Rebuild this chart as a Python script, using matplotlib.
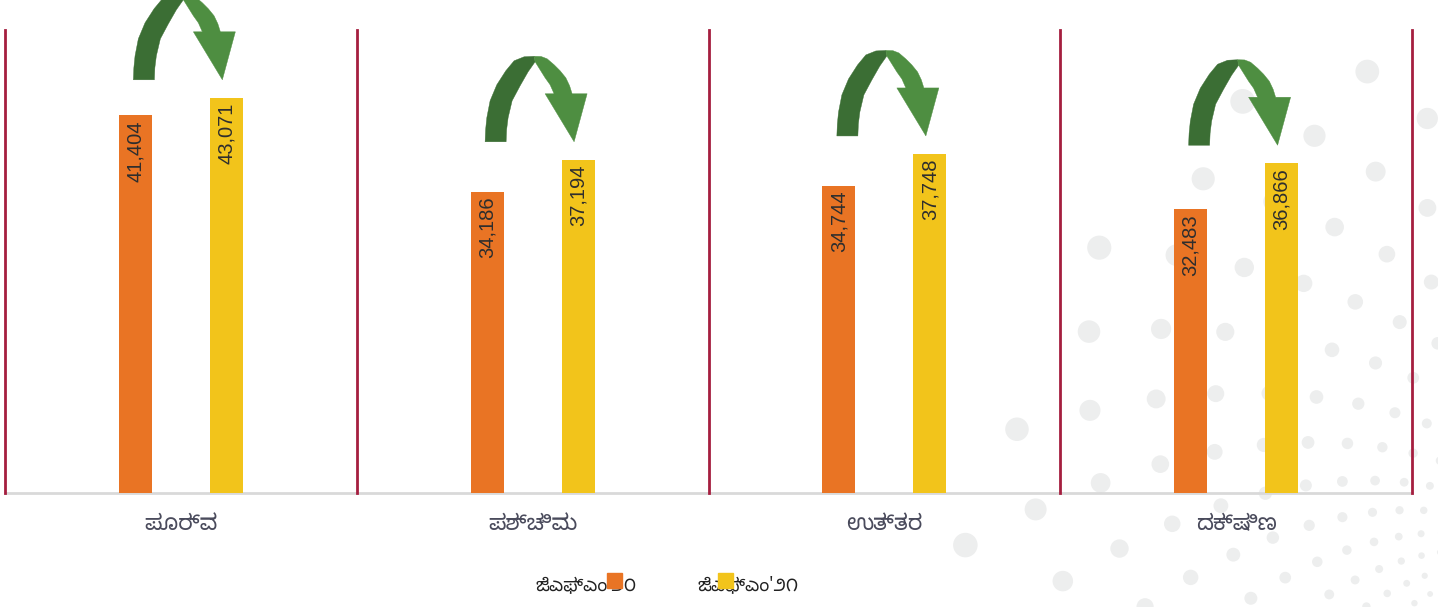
import numpy as np
import matplotlib
matplotlib.use("Agg")
import matplotlib.pyplot as plt
from matplotlib.patches import Polygon, Rectangle
import matplotlib.transforms as mtransforms

# data
regions = ["ಪೂರ್ವ", "ಪಶ್ಚಿಮ", "ಉತ್ತರ", "ದಕ್ಷಿಣ"]
jfm20 = [41404, 34186, 34744, 32483]
jfm21 = [43071, 37194, 37748, 36866]
series_names = ["ಜೆಎಫ್ಎಂ'೨೦", "ಜೆಎಫ್ಎಂ'೨೧"]

KN = ["Noto Sans Kannada", "Lohit Kannada", "Tunga", "Noto Sans", "DejaVu Sans"]
plt.rcParams["font.family"] = KN

orange = "#E97424"
yellow = "#F2C41B"
sep_col = "#A51E3F"

W, H = 1438, 607
fig = plt.figure(figsize=(W / 100, H / 100), dpi=100)

# background dot spiral (decoration only)
bg = fig.add_axes([0, 0, 1, 1], zorder=0)
bg.set_xlim(0, W)
bg.set_ylim(H, 0)
bg.axis("off")
cx, cy = 1550, 610
golden = np.radians(137.508)
i = np.arange(1200)
r = 40 * 1.0034 ** i
keep = r < 600
r = r[keep]
th = i[keep] * golden
px = cx + r * np.cos(th)
py = cy + r * np.sin(th)
vis = (px > -20) & (px < W + 20) & (py > -20) & (py < H + 20)
d = 0.04 * r[vis] + 1.0
bg.scatter(px[vis], py[vis], s=(d * 0.72) ** 2, color="#EDEEEE", lw=0)

ax = fig.add_axes([5 / W, (H - 493) / H, (1412 - 5) / W, (493 - 30) / H], zorder=1)
ax.patch.set_alpha(0)

x = np.arange(len(regions))
bw = 0.094
off = 0.1294
ax.bar(x - off, jfm20, bw, color=orange, zorder=3)
ax.bar(x + off, jfm21, bw, color=yellow, zorder=3)
ax.set_xlim(-0.5, len(regions) - 0.5)
ax.set_ylim(5600, 49500)

for s in ax.spines.values():
    s.set_visible(False)
ax.set_yticks([])
ax.set_xticks(x)
ax.set_xticklabels(regions, fontsize=16, color="#4A4B5C")
ax.tick_params(axis="x", length=0, pad=15)
ax.axhline(5600, color="#D9D9D9", lw=2, zorder=2, clip_on=False)
for xv in np.arange(-0.5, len(regions), 1.0):
    ax.axvline(xv, color=sep_col, lw=2, zorder=2, clip_on=False)

# value labels inside bars
for xi, v20, v21 in zip(x, jfm20, jfm21):
    for xp, v in ((xi - off, v20), (xi + off, v21)):
        ax.annotate(f"{v:,}", (xp, v), xytext=(0, -5), textcoords="offset pixels",
                    rotation=90, ha="center", va="top", fontsize=14.5,
                    family="Liberation Sans", color="#2E2E2E", zorder=4)

# curved arrows from the 2020 bar to the 2021 bar (shape in pixels)
dark_part = [(0, 0), (0.5, 12), (1.7, 24), (5, 41), (11.7, 57), (20.7, 71),
             (29, 81), (39, 85), (49, 85.5), (50, 80), (43, 70), (35, 56),
             (27, 41), (23, 24), (21.5, 12), (21, 0)]
light_part = [(49, 85.5), (56, 85.3), (62, 83), (69, 77), (75, 71), (80.7, 64),
              (84.5, 56), (87, 48), (102, 48), (89, 0), (60, 48), (69, 48),
              (65, 57), (60, 64), (55, 72), (50, 80)]
for xi, v21 in zip(x, jfm21):
    tr = mtransforms.Affine2D().translate(-2, 18) + \
        mtransforms.ScaledTranslation(xi - off, v21, ax.transData)
    ax.add_patch(Polygon(dark_part, closed=True, fc="#3B6E34", ec="#3B6E34",
                         lw=0.3, transform=tr, clip_on=False, zorder=5))
    ax.add_patch(Polygon(light_part, closed=True, fc="#4E8E41", ec="#4E8E41",
                         lw=0.3, transform=tr, clip_on=False, zorder=5))

# legend (text with colour squares as placed in the source)
fig.text(535 / W, 1 - 585 / H, series_names[0], fontsize=13, color="#222222",
         va="center", ha="left", zorder=3)
fig.text(697 / W, 1 - 585 / H, series_names[1], fontsize=13, color="#222222",
         va="center", ha="left", zorder=3)
for xl, c in ((607, orange), (718, yellow)):
    fig.patches.append(Rectangle((xl / W, 1 - 588 / H), 15 / W, 15 / H,
                                 transform=fig.transFigure, color=c, zorder=4))

fig.savefig("out.png", dpi=100)
